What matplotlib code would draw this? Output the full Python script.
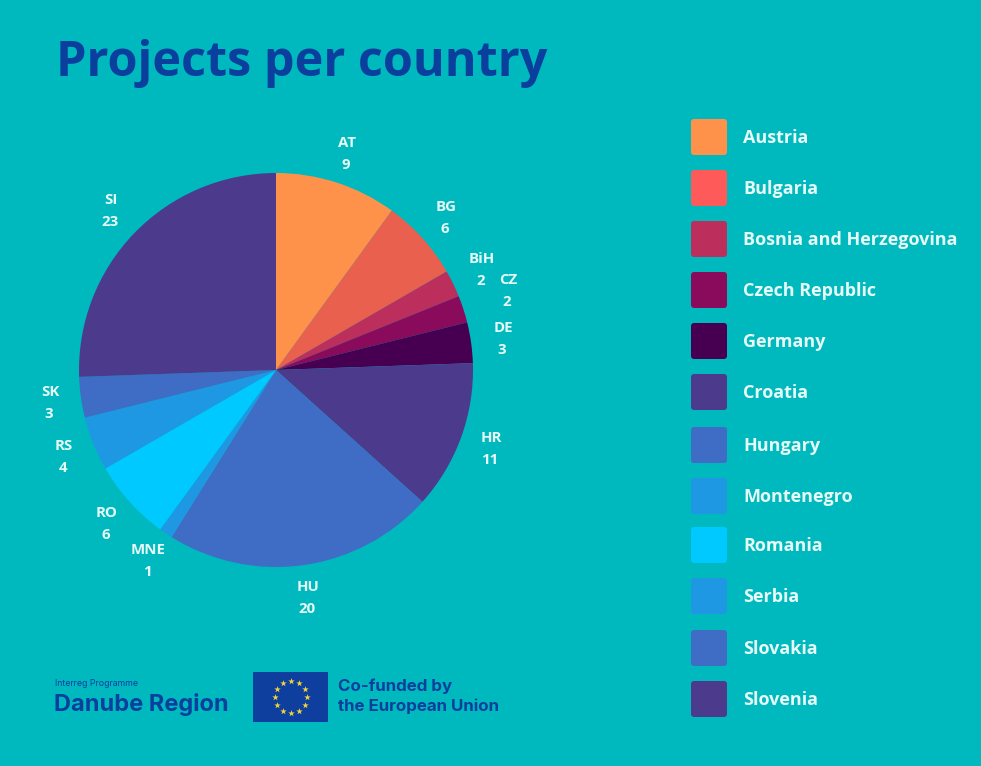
"""Projects per country pie chart."""

import matplotlib
matplotlib.use('Agg')
import matplotlib.pyplot as plt
from matplotlib.patches import FancyBboxPatch, Rectangle

codes = ['AT', 'BG', 'BiH', 'CZ', 'DE', 'HR', 'HU', 'MNE', 'RO', 'RS', 'SK', 'SI']
projects = [9, 6, 2, 2, 3, 11, 20, 1, 6, 4, 3, 23]
countries = ['Austria', 'Bulgaria', 'Bosnia and Herzegovina', 'Czech Republic',
             'Germany', 'Croatia', 'Hungary', 'Montenegro', 'Romania', 'Serbia',
             'Slovakia', 'Slovenia']
slice_colors = ['#FF924A', '#E9604F', '#BC2E5C', '#8A0A5C', '#470051', '#4C3A8D',
                '#3F6CC4', '#1F98E4', '#00C9FF', '#1F98E4', '#3F6CC4', '#4C3A8D']
legend_colors = ['#FF924A', '#FF5A5A', '#BC2E5C', '#8A0A5C', '#470051', '#4C3A8D',
                 '#3F6CC4', '#1F98E4', '#00C9FF', '#1F98E4', '#3F6CC4', '#4C3A8D']

# hand placed in the original, pixel centres of each two line label
label_x = [347, 446, 482, 508, 503, 491, 308, 148, 107, 64, 50, 111]
label_y = [154, 218, 270, 291, 339, 449, 598, 561, 524, 457, 403, 211]
legend_y = [137, 188, 239, 290, 341, 392, 445, 496, 545, 596, 648, 699]

BG = '#00B9BF'
NAVY = '#0B3F9E'
TEXT = '#E6FAF8'
W, H = 981, 766

plt.rcParams['font.family'] = ['Open Sans', 'DejaVu Sans']

fig = plt.figure(figsize=(W / 100, H / 100), dpi=100, facecolor=BG)

# pie: centre (276, 370), radius 197 px
ax = fig.add_axes([79 / W, 1 - 567 / H, 394 / W, 394 / H])
ax.pie(projects, colors=slice_colors, startangle=90, counterclock=False, radius=1)
ax.set_xlim(-1, 1)
ax.set_ylim(-1, 1)

# everything else in pixel coordinates
ov = fig.add_axes([0, 0, 1, 1], facecolor='none')
ov.set_xlim(0, W)
ov.set_ylim(H, 0)
ov.axis('off')

ov.text(56, 63, 'Projects per country', color=NAVY, fontsize=35, fontweight='bold',
        ha='left', va='center')

for code, n, x, y in zip(codes, projects, label_x, label_y):
    ov.text(x, y - 11, code, color=TEXT, fontsize=10.8, fontweight='bold',
            ha='center', va='center')
    ov.text(x - 1, y + 11, str(n), color=TEXT, fontsize=10.8, fontweight='bold',
            ha='center', va='center')

for name, c, y in zip(countries, legend_colors, legend_y):
    ov.add_patch(FancyBboxPatch((694, y - 15), 30, 30, boxstyle='round,pad=3,rounding_size=3',
                                fc=c, ec='none'))
    ov.text(743, y + 1, name, color=TEXT, fontsize=13, fontweight='bold',
            ha='left', va='center')

# footer logos
ov.text(55, 684, 'Interreg Programme', color=NAVY, fontsize=6.3, family='Inter',
        ha='left', va='center')
ov.text(54, 705, 'Danube Region', color=NAVY, fontsize=17, fontweight='bold', family='Inter',
        ha='left', va='center')
ov.add_patch(Rectangle((253, 672), 75, 50, fc='#0E3F9E', ec='none'))
star_dx = [0, 8, 14, 16, 14, 8, 0, -8, -14, -16, -14, -8]
star_dy = [-16, -14, -8, 0, 8, 14, 16, 14, 8, 0, -8, -14]
ov.scatter([291 + d for d in star_dx], [697 + d for d in star_dy], marker='*', s=24,
           color='#F2D53C', linewidths=0)
ov.text(338, 686, 'Co-funded by', color=NAVY, fontsize=12.2, fontweight='bold', family='Inter',
        ha='left', va='center')
ov.text(338, 706, 'the European Union', color=NAVY, fontsize=12.2, fontweight='bold',
        family='Inter', ha='left', va='center')

fig.savefig('out.png', dpi=100, facecolor=BG)
